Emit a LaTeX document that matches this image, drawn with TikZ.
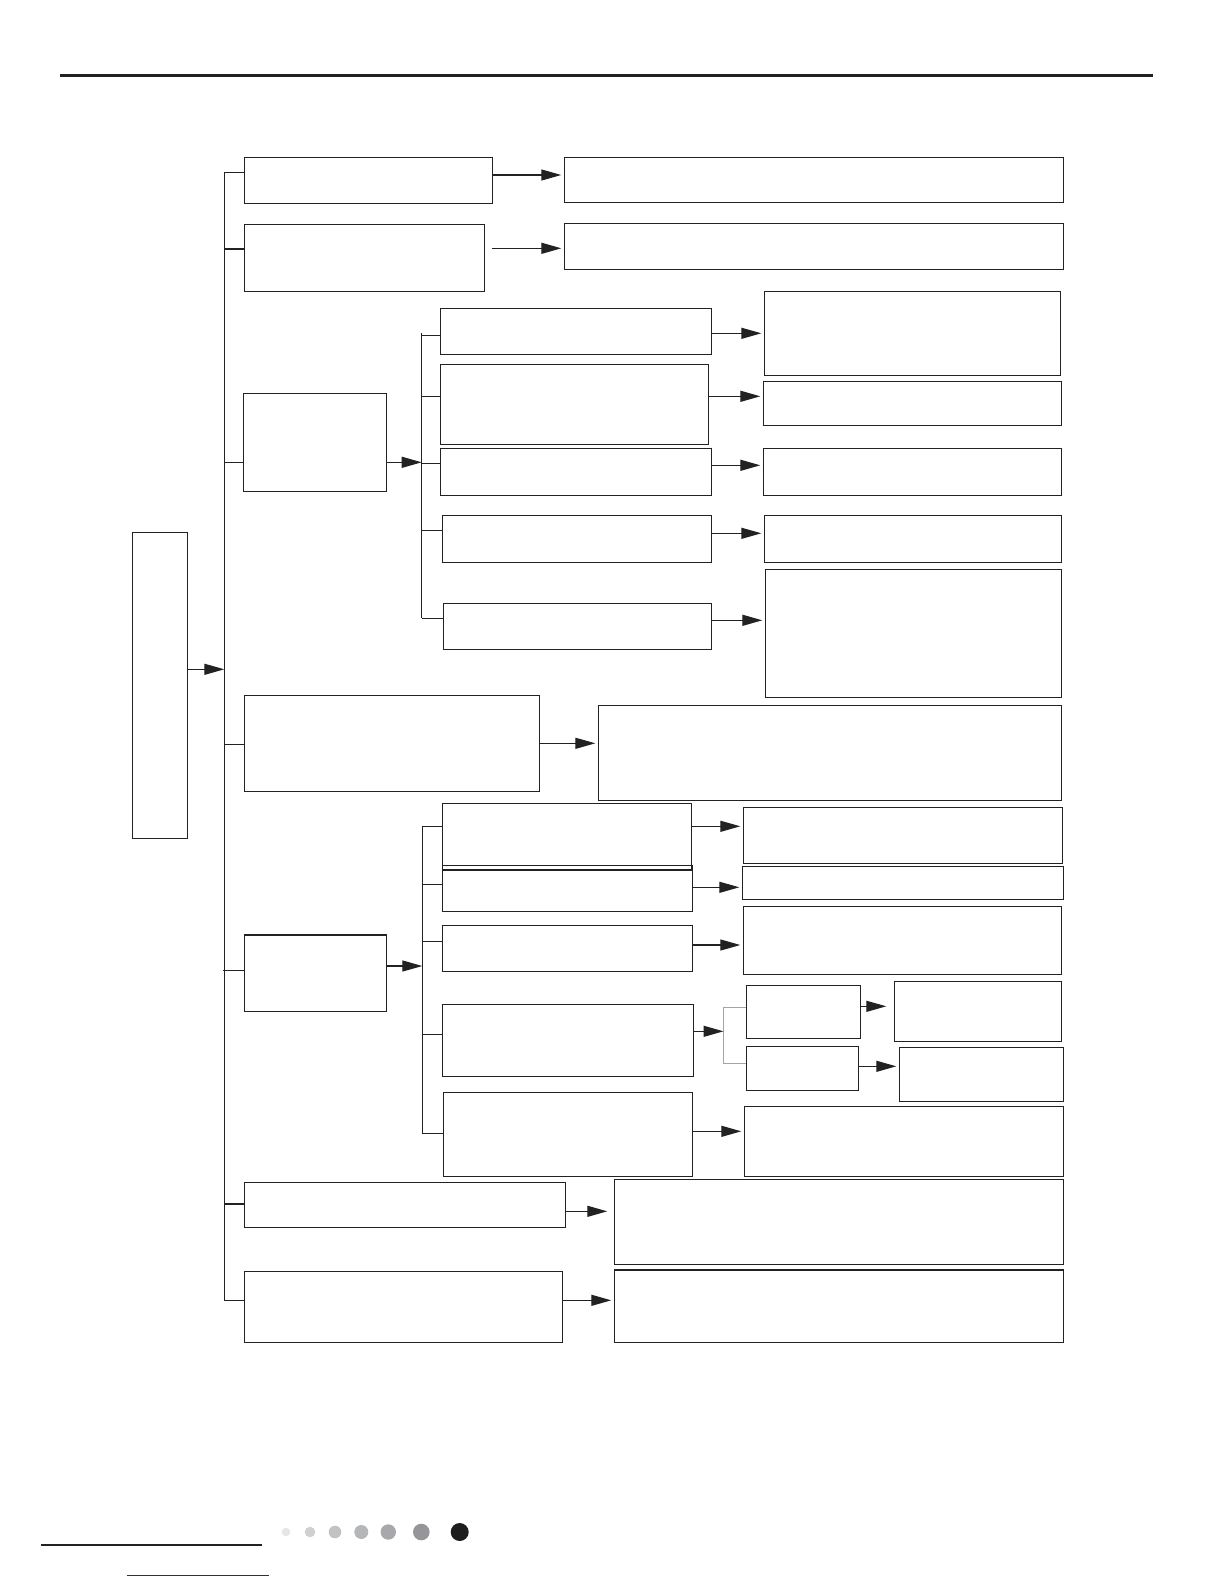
\documentclass[tikz,border=0pt]{standalone}
\usetikzlibrary{arrows.meta}
\definecolor{Ink}{HTML}{222222}
\definecolor{BracketGray}{HTML}{A4A4A4}
\definecolor{LinkBlue}{HTML}{1C2A96}
\definecolor{DotA}{HTML}{E6E6E6}
\definecolor{DotB}{HTML}{D0D0D0}
\definecolor{DotC}{HTML}{C2C2C2}
\definecolor{DotD}{HTML}{B4B6B8}
\definecolor{DotE}{HTML}{A8A8AC}
\definecolor{DotF}{HTML}{96969A}
\definecolor{DotG}{HTML}{1E1E1E}
% box from its top-left to its bottom-right corner (pixels)
\newcommand{\cellbox}[5]{%
  \node[cell, minimum width={(#4-#2)*1pt}, minimum height={(#5-#3)*1pt}] (#1) at (#2,#3) {};}
\begin{document}
\begin{tikzpicture}[
    x=1pt, y=-1pt,
    cell/.style={
      draw=Ink,
      line width=1.4pt,
      inner sep=0pt,
      outer sep=0pt,
      anchor=north west
    },
    tick/.style={draw=Ink, line width=1.3pt},
    flow/.style={-{Triangle[length=20pt,width=11pt]}, draw=Ink, line width=1.3pt, shorten >=3pt},
    busflow/.style={flow, shorten >=0pt}
  ]
    \useasboundingbox (0,0) rectangle (1224,1584);

    % page rules and dots
    \draw[Ink, line width=3pt] (59.6,75.7) -- (1153.3,75.7);
    \draw[Ink, line width=2.4pt] (41,1544.7) -- (262,1544.7);
    \draw[LinkBlue, line width=1pt] (127,1575.3) -- (268.7,1575.3);
    \fill[DotA] (286,1532) circle (4.3pt);
    \fill[DotB] (310,1532) circle (5.3pt);
    \fill[DotC] (335,1532) circle (6.3pt);
    \fill[DotD] (361.3,1532) circle (7pt);
    \fill[DotE] (388.3,1532) circle (7.7pt);
    \fill[DotF] (421.3,1532) circle (8.3pt);
    \fill[DotG] (459.7,1532) circle (9pt);

    % main column
    \cellbox{main}{132.3}{532.3}{187.7}{838.3}
    \cellbox{Aone}{244.3}{157.3}{492.3}{203.3}
    \cellbox{Atwo}{244.3}{224.3}{484.7}{291.3}
    \cellbox{Bgrp}{243.3}{393.3}{386.7}{491.3}
    \cellbox{Dbox}{244.3}{695.3}{539.3}{791.3}
    \cellbox{Egrp}{244.3}{935}{386.3}{1011.3}
    \cellbox{Kbox}{244.3}{1182.3}{565.7}{1227.3}
    \cellbox{Lbox}{244.3}{1271.3}{562.3}{1342.3}

    % upper group
    \cellbox{Bone}{440.3}{308.3}{711.7}{354.3}
    \cellbox{Btwo}{440.3}{364.3}{708.7}{444.3}
    \cellbox{Bthree}{440.3}{448.3}{711.7}{495.3}
    \cellbox{Bfour}{442.3}{515.3}{711.7}{562.3}
    \cellbox{Bfive}{443.3}{603.3}{711.7}{649.3}

    % lower group
    \cellbox{Eone}{442.3}{803.3}{691.7}{870}
    \cellbox{Etwo}{442.3}{865.3}{692.3}{911.3}
    \cellbox{Ethree}{442.3}{925.3}{692.3}{971.3}
    \cellbox{Efour}{442.3}{1004.3}{693.3}{1076.5}
    \cellbox{Efive}{443.3}{1092.3}{692.3}{1176.3}
    \cellbox{Gone}{746.3}{985.3}{860.7}{1038.3}
    \cellbox{Gtwo}{746.3}{1046.3}{858.7}{1090.3}

    % right column
    \cellbox{Rone}{564.3}{157.3}{1063.4}{202.3}
    \cellbox{Rtwo}{564.3}{223.3}{1063.4}{269.3}
    \cellbox{Cone}{764.3}{291.3}{1060.3}{375.3}
    \cellbox{Ctwo}{763.3}{381.3}{1061.3}{425.3}
    \cellbox{Cthree}{763.3}{448.3}{1061.3}{495.3}
    \cellbox{Cfour}{764.3}{515.3}{1061.3}{562.3}
    \cellbox{Cfive}{765.3}{569.3}{1061.3}{697.3}
    \cellbox{Rfour}{598.3}{705.3}{1061.7}{800.3}
    \cellbox{Fone}{743.3}{807.3}{1062.7}{863.3}
    \cellbox{Ftwo}{742.3}{866.3}{1063.7}{899.3}
    \cellbox{Fthree}{743.3}{906.3}{1061.7}{974.3}
    \cellbox{Hone}{894.3}{981.3}{1061.3}{1041.3}
    \cellbox{Htwo}{899.3}{1047.3}{1063.3}{1101.3}
    \cellbox{Ffive}{744.3}{1106.3}{1063.7}{1176.3}
    \cellbox{Rsix}{614.3}{1179.3}{1063.4}{1264.3}
    \cellbox{Rseven}{614.3}{1270}{1063.4}{1342.3}

    % buses
    \coordinate (busTop) at (224.3,172.3);
    \coordinate (busEnd) at (224.3,1301.3);
    \coordinate (subTop) at (421.7,333.3);
    \coordinate (subEnd) at (421.7,618.3);
    \coordinate (lowTop) at (422.3,826.3);
    \coordinate (lowEnd) at (422.3,1133.3);
    \coordinate (brTop) at (723.5,1007.7);
    \coordinate (brEnd) at (723.5,1063.3);
    \draw[tick] (busTop) -- (busEnd);
    \draw[tick] (subTop) -- (subEnd);
    \draw[tick] (lowTop) -- (lowEnd);
    \draw[BracketGray, line width=1.5pt] (Gone.west |- brTop) -- (brTop) -- (brEnd) -- (Gtwo.west |- brEnd);

    % ticks onto boxes
    \draw[tick] (busTop) -- (Aone.west |- busTop);
    \draw[tick] (busTop |- 0,249) -- (Atwo.west |- 0,249);
    \draw[tick] (busTop |- 0,462.3) -- (Bgrp.west |- 0,462.3);
    \draw[tick] (busTop |- 0,744.3) -- (Dbox.west |- 0,744.3);
    \draw[tick] (222.7,970.3) -- (Egrp.west |- 0,970.3);
    \draw[tick] (busTop |- 0,1204) -- (Kbox.west |- 0,1204);
    \draw[tick] (busTop |- 0,1300.3) -- (Lbox.west |- 0,1300.3);
    \draw[tick] (subTop |- 0,335.3) -- (Bone.west |- 0,335.3);
    \draw[tick] (subTop |- 0,396.3) -- (Btwo.west |- 0,396.3);
    \draw[tick] (subTop |- 0,463.3) -- (Bthree.west |- 0,463.3);
    \draw[tick] (subTop |- 0,530.3) -- (Bfour.west |- 0,530.3);
    \draw[tick] (subEnd) -- (Bfive.west |- subEnd);
    \draw[tick] (lowTop) -- (Eone.west |- lowTop);
    \draw[tick] (lowTop |- 0,884.3) -- (Etwo.west |- 0,884.3);
    \draw[tick] (lowTop |- 0,941.3) -- (Ethree.west |- 0,941.3);
    \draw[tick] (lowTop |- 0,1034.3) -- (Efour.west |- 0,1034.3);
    \draw[tick] (lowEnd) -- (Efive.west |- lowEnd);

    % arrows
    \draw[busflow] (main.east |- 0,669.3) -- (busTop |- 0,669.3);
    \draw[busflow] (Bgrp.east |- 0,462.3) -- (subTop |- 0,462.3);
    \draw[busflow] (Egrp.east |- 0,966) -- (lowTop |- 0,966);
    \draw[busflow] (Efour.east |- 0,1031.3) -- (brTop |- 0,1031.3);
    \draw[flow] (Aone.east |- 0,175) -- (Rone.west |- 0,175);
    \draw[flow] (492.3,248.3) -- (Rtwo.west |- 0,248.3);
    \draw[flow] (Bone.east |- 0,333.3) -- (Cone.west |- 0,333.3);
    \draw[flow] (Btwo.east |- 0,396.3) -- (Ctwo.west |- 0,396.3);
    \draw[flow] (Bthree.east |- 0,465.3) -- (Cthree.west |- 0,465.3);
    \draw[flow] (Bfour.east |- 0,533.3) -- (Cfour.west |- 0,533.3);
    \draw[flow] (Bfive.east |- 0,620.3) -- (Cfive.west |- 0,620.3);
    \draw[flow] (Dbox.east |- 0,743.3) -- (Rfour.west |- 0,743.3);
    \draw[flow] (Eone.east |- 0,826.3) -- (Fone.west |- 0,826.3);
    \draw[flow] (Etwo.east |- 0,887.3) -- (Ftwo.west |- 0,887.3);
    \draw[flow] (Ethree.east |- 0,945) -- (Fthree.west |- 0,945);
    \draw[flow, shorten >=8pt] (Gone.east |- 0,1006.3) -- (Hone.west |- 0,1006.3);
    \draw[flow] (Gtwo.east |- 0,1066.3) -- (Htwo.west |- 0,1066.3);
    \draw[flow] (Efive.east |- 0,1131.3) -- (Ffive.west |- 0,1131.3);
    \draw[flow, shorten >=7pt] (Kbox.east |- 0,1211.3) -- (Rsix.west |- 0,1211.3);
    \draw[flow] (Lbox.east |- 0,1300.3) -- (Rseven.west |- 0,1300.3);
  \end{tikzpicture}
\end{document}
